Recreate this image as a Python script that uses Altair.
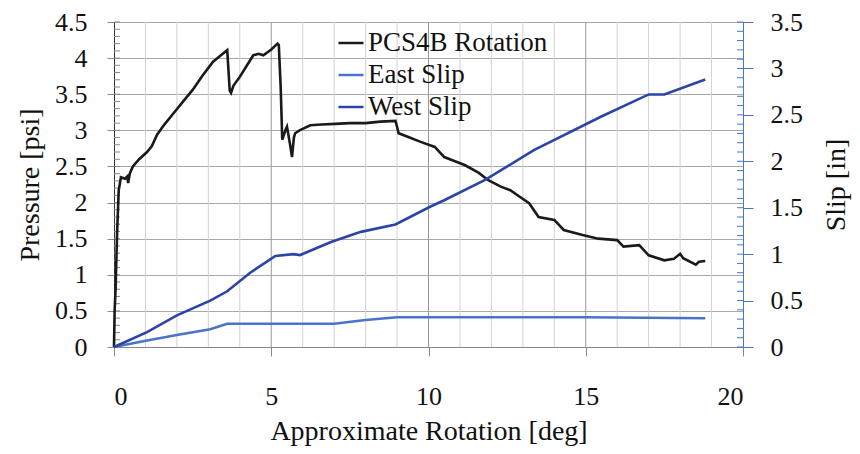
import altair as alt
import pandas as pd

# ---- data ----
rot_p = [0, 0.02, 0.05, 0.1, 0.15, 0.22, 0.35, 0.42, 0.45, 0.5, 0.6, 0.8, 1.05, 1.2, 1.37, 1.6,
         1.9, 2.2, 2.5, 2.8, 3.15, 3.4, 3.6, 3.63, 3.68, 3.72, 3.8, 4.0, 4.2, 4.43, 4.6, 4.75,
         5.0, 5.2, 5.24, 5.3, 5.35, 5.45, 5.5, 5.6, 5.66, 5.72, 5.76, 5.9, 6.24, 6.6, 7.04,
         7.5, 8.0, 8.47, 8.95, 9.0, 9.05, 9.4, 9.75, 10.2, 10.5, 10.8, 11.15, 11.6, 11.9,
         12.3, 12.6, 12.9, 13.2, 13.5, 14.0, 14.3, 14.9, 15.4, 16.0, 16.2, 16.7, 17.0, 17.5,
         17.8, 18.0, 18.1, 18.5, 18.6, 18.8]
pressure = [0, 0.5, 0.8, 1.6, 2.17, 2.35, 2.33, 2.36, 2.27, 2.4, 2.5, 2.6, 2.7, 2.78, 2.94, 3.08,
            3.24, 3.4, 3.56, 3.75, 3.95, 4.04, 4.11, 3.9, 3.55, 3.52, 3.62, 3.74, 3.88, 4.04, 4.06, 4.04,
            4.12, 4.2, 4.18, 3.6, 2.87, 3.0, 3.05, 2.8, 2.63, 2.9, 2.96, 3.0, 3.07, 3.08, 3.09,
            3.1, 3.1, 3.12, 3.13, 3.05, 2.96, 2.9, 2.84, 2.77, 2.63, 2.58, 2.52, 2.41, 2.31,
            2.22, 2.17, 2.08, 1.99, 1.8, 1.76, 1.62, 1.55, 1.5, 1.48, 1.39, 1.41, 1.27, 1.2,
            1.22, 1.29, 1.23, 1.14, 1.18, 1.19]

rot_e = [0, 1.05, 2.0, 3.06, 3.6, 5.0, 6.0, 7.0, 8.0, 9.0, 10.0, 12.0, 15.0, 18.8]
east = [0, 0.07, 0.13, 0.19, 0.25, 0.25, 0.25, 0.25, 0.29, 0.32, 0.32, 0.32, 0.32, 0.31]

rot_w = [0, 1.05, 2.0, 3.06, 3.6, 4.33, 5.13, 5.7, 5.92, 6.9, 7.85, 8.95, 10.05, 10.5, 11.8,
         13.35, 15.48, 17.0, 17.5, 18.8]
west = [0, 0.16, 0.34, 0.5, 0.6, 0.8, 0.98, 1.0, 0.99, 1.13, 1.24, 1.32, 1.51, 1.58, 1.8,
        2.12, 2.48, 2.72, 2.72, 2.88]

series_names = ["PCS4B Rotation", "East Slip", "West Slip"]
series_colors = ["#1a1a1a", "#4a74c8", "#2b45a6"]

x_major = [0, 5, 10, 15, 20]
x_minor = [1, 2, 3, 4, 6, 7, 8, 9, 11, 12, 13, 14, 16, 17, 18, 19]
p_ticks = [0, 0.5, 1, 1.5, 2, 2.5, 3, 3.5, 4, 4.5]
s_ticks = [0, 0.5, 1, 1.5, 2, 2.5, 3, 3.5]
p_minor = [i / 10 for i in range(46)]
s_minor = [i / 10 for i in range(36)]

W, H = 629, 325
FONT = "Liberation Serif"

df_p = pd.DataFrame({"rot": rot_p, "val": pressure, "series": series_names[0]})
df_e = pd.DataFrame({"rot": rot_e, "val": east, "series": series_names[1]})
df_w = pd.DataFrame({"rot": rot_w, "val": west, "series": series_names[2]})

xscale = alt.Scale(domain=[0, 20], nice=False)
pscale = alt.Scale(domain=[0, 4.5], nice=False)
sscale = alt.Scale(domain=[0, 3.5], nice=False)
cscale = alt.Scale(domain=series_names, range=series_colors)

AX = dict(labelFont=FONT, titleFont=FONT, labelFontSize=26, titleFontSize=28,
          labelColor="#111", titleColor="#111", titleFontWeight="normal", format="~g")

xaxis = alt.Axis(values=x_major, title="Approximate Rotation [deg]", grid=False, tickSize=9,
                 tickColor="#888", domainColor="#888", labelPadding=27, titlePadding=8, **AX)
paxis = alt.Axis(values=p_ticks, title="Pressure [psi]", orient="left", grid=True, gridColor="#a8a8a8",
                 tickSize=7, tickColor="#888", domainColor="#333", labelPadding=20, titlePadding=10, **AX)
saxis = alt.Axis(values=s_ticks, title="Slip  [in]", orient="right", grid=False, tickSize=10,
                 tickColor="#4a74c8", domainColor="#4a74c8", labelPadding=17, titlePadding=20,
                 titleAngle=270, titleBaseline="top", **AX)
legend = alt.Legend(orient="none", legendX=223, legendY=7, title=None, symbolType="stroke",
                    symbolSize=625, symbolStrokeWidth=2.5, labelFont=FONT, labelFontSize=27,
                    labelColor="#111", rowPadding=5, labelOffset=3, padding=0, labelLimit=400)

minor_grid = alt.Chart(pd.DataFrame({"g": x_minor})).mark_rule(color="#d2d2d2", strokeWidth=1).encode(
    x=alt.X("g:Q", scale=xscale, axis=xaxis))
major_grid = alt.Chart(pd.DataFrame({"g": x_major[1:4]})).mark_rule(color="#999999", strokeWidth=1).encode(
    x=alt.X("g:Q", scale=xscale, axis=xaxis))
p_minor_ticks = alt.Chart(pd.DataFrame({"v": p_minor})).mark_rule(color="#888", strokeWidth=1).encode(
    x=alt.value(0), x2=alt.value(6), y=alt.Y("v:Q", scale=pscale, axis=paxis))
p_line = alt.Chart(df_p).mark_line(strokeWidth=2.6).encode(
    x=alt.X("rot:Q", scale=xscale, axis=xaxis),
    y=alt.Y("val:Q", scale=pscale, axis=paxis),
    color=alt.Color("series:N", scale=cscale, legend=legend))

s_minor_ticks = alt.Chart(pd.DataFrame({"v": s_minor})).mark_rule(color="#4a74c8", strokeWidth=1).encode(
    x=alt.value(W - 6), x2=alt.value(W), y=alt.Y("v:Q", scale=sscale, axis=saxis))
e_line = alt.Chart(df_e).mark_line(strokeWidth=2.6).encode(
    x=alt.X("rot:Q", scale=xscale, axis=xaxis),
    y=alt.Y("val:Q", scale=sscale, axis=saxis),
    color=alt.Color("series:N", scale=cscale, legend=legend))
w_line = alt.Chart(df_w).mark_line(strokeWidth=2.6).encode(
    x=alt.X("rot:Q", scale=xscale, axis=xaxis),
    y=alt.Y("val:Q", scale=sscale, axis=saxis),
    color=alt.Color("series:N", scale=cscale, legend=legend))

left = alt.layer(minor_grid, major_grid, p_minor_ticks, p_line)
right = alt.layer(s_minor_ticks, e_line, w_line)

chart = alt.layer(left, right).resolve_scale(y="independent").properties(
    width=W, height=H,
    padding={"left": 106, "top": 14, "right": 109, "bottom": 99},
    autosize=alt.AutoSizeParams(type="none"),
).configure_view(stroke="#000", strokeWidth=1)

chart.save("out.html", embed_options={"renderer": "svg", "actions": False})
